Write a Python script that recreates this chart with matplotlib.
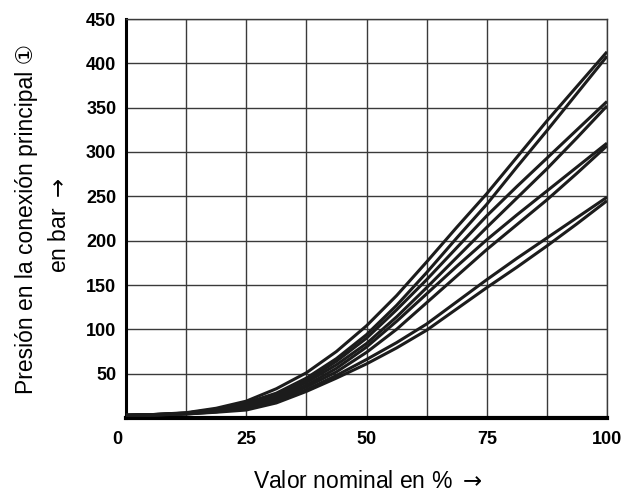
import numpy as np
import matplotlib
matplotlib.use('Agg')
import matplotlib.pyplot as plt
import matplotlib.transforms as mtransforms

# valor nominal en %
x = [0, 6.25, 12.5, 18.75, 25, 31.25, 37.5, 43.75, 50, 56.25, 62.5, 68.75, 75, 81.25, 87.5, 93.75, 100]

# presion en bar
p_a1 = [3, 4, 6, 11, 19, 33, 51, 75, 104, 138, 176, 215, 253, 294, 335, 374, 413]
p_a2 = [3, 4, 5.5, 10, 17, 28, 45, 67, 94, 127, 164, 203, 241, 283, 324, 366, 408]
p_b1 = [3, 4, 5.5, 9.5, 16, 27, 42, 64, 90, 122, 156, 192, 228, 261, 293, 325, 357]
p_b2 = [3, 4, 5, 9, 15, 25, 40, 60, 84, 114, 147, 181, 215, 248, 281, 316, 352]
p_c1 = [3, 3.5, 5, 8, 13, 23, 37, 56, 80, 109, 140, 171, 201, 229, 256, 283, 310]
p_c2 = [3, 3.5, 5, 7.5, 12, 21, 35, 52, 74, 100, 130, 160, 190, 218, 246, 276, 307]
p_d1 = [3, 3.5, 4.5, 7, 11, 19, 32, 48, 66, 85, 106, 131, 156, 180, 203, 226, 249]
p_d2 = [3, 3.5, 4.5, 6.5, 9, 17, 30, 45, 61, 79, 99, 123, 147, 170, 194, 219, 245]
curves = [p_a1, p_a2, p_b1, p_b2, p_c1, p_c2, p_d1, p_d2]

xgrid = [0, 12.5, 25, 37.5, 50, 62.5, 75, 87.5, 100]
xlabels = ['0', '', '25', '', '50', '', '75', '', '100']
ygrid = [0, 50, 100, 150, 200, 250, 300, 350, 400, 450]
ylabels = ['', '50', '100', '150', '200', '250', '300', '350', '400', '450']

plt.rcParams['font.family'] = ['Liberation Sans', 'DejaVu Sans']

fig = plt.figure(figsize=(6.28, 4.94), dpi=100)
ax = fig.add_axes([126/628, 1-418/494, 481/628, 399/494])

for p in curves:
    ax.plot(x, p, color='#1c1c1c', lw=2.2, solid_capstyle='butt', zorder=3)

ax.set_xlim(0, 100)
ax.set_ylim(0, 450)
ax.set_xticks(xgrid, xlabels)
ax.set_yticks(ygrid, ylabels)
ax.grid(True, color='#3a3a3a', lw=1.0)
ax.set_axisbelow(True)
ax.tick_params(axis='x', length=0, pad=9)
ax.tick_params(axis='y', length=0, pad=7)
for lab in ax.get_xticklabels() + ax.get_yticklabels():
    lab.set_fontweight('bold')
    lab.set_fontsize(13)

# el "0" del eje x va un poco a la izquierda
lab0 = ax.get_xticklabels()[0]
lab0.set_transform(lab0.get_transform() + mtransforms.ScaledTranslation(-9/100, 0, fig.dpi_scale_trans))

ax.spines['left'].set_linewidth(2.2)
ax.spines['bottom'].set_linewidth(3.0)
ax.spines['left'].set_color('black')
ax.spines['bottom'].set_color('black')
for s in ['top', 'right']:
    ax.spines[s].set_linewidth(1.0)
    ax.spines[s].set_color('#3a3a3a')

fig.text(27/628, 1-219/494, 'Presión en la conexión principal \u2460', rotation=90,
         ha='center', va='center', fontsize=16.5)
fig.text(60/628, 1-225/494, r'en bar $\rightarrow$', rotation=90,
         ha='center', va='center', fontsize=16.5)
fig.text(368/628, 1-481/494, r'Valor nominal en % $\rightarrow$', ha='center', va='center', fontsize=16.5)

fig.savefig('out.png', dpi=100)
